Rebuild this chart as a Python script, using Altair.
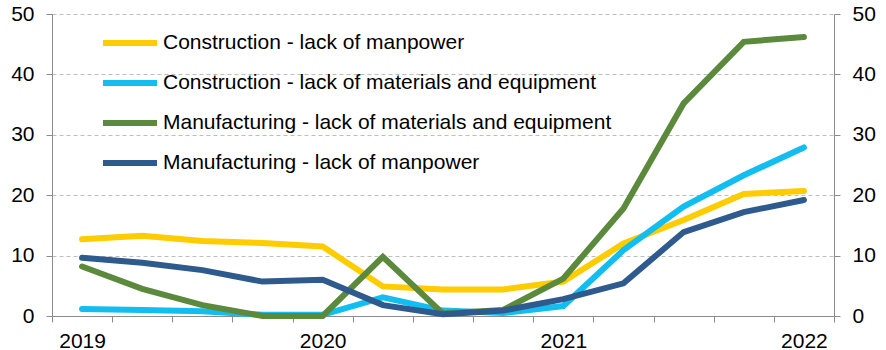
import altair as alt
import pandas as pd

quarters = ["2019Q1", "2019Q2", "2019Q3", "2019Q4",
            "2020Q1", "2020Q2", "2020Q3", "2020Q4",
            "2021Q1", "2021Q2", "2021Q3", "2021Q4",
            "2022Q1"]

series_names = [
    "Construction - lack of manpower",
    "Construction - lack of materials and equipment",
    "Manufacturing - lack of materials and equipment",
    "Manufacturing - lack of manpower",
]
series_colors = ["#FFCC00", "#12BDEF", "#5B8A3D", "#2E5A8D"]

constr_manpower = [12.7, 13.3, 12.4, 12.1, 11.5, 4.9, 4.4, 4.4, 5.7, 12.0, 15.9, 20.2, 20.7]
constr_materials = [1.15, 1.0, 0.8, 0.2, 0.2, 3.1, 0.9, 0.5, 1.65, 10.9, 18.1, 23.3, 27.9]
manuf_materials = [8.2, 4.5, 1.8, 0.0, 0.0, 9.8, 0.4, 1.0, 6.2, 17.8, 35.2, 45.4, 46.2]
manuf_manpower = [9.65, 8.8, 7.6, 5.7, 6.0, 1.8, 0.3, 0.9, 2.8, 5.4, 13.9, 17.2, 19.2]

y_ticks = [0, 10, 20, 30, 40, 50]

rows = []
for name, vals in zip(series_names,
                      [constr_manpower, constr_materials, manuf_materials, manuf_manpower]):
    for q, v in zip(quarters, vals):
        rows.append({"quarter": q, "series": name, "value": v})
df = pd.DataFrame(rows)

FONT = "Liberation Sans"

x_enc = alt.X(
    "quarter:O",
    sort=quarters,
    bandPosition=0.5,
    scale=alt.Scale(type="band", paddingInner=0, paddingOuter=0),
    axis=alt.Axis(
        title=None,
        labelExpr="slice(datum.label, 4) == 'Q1' ? slice(datum.label, 0, 4) : ''",
        labelAngle=0,
        labelOverlap=False,
        tickBand="extent",
        tickSize=6,
        tickColor="#8C8C8C",
        domainColor="#8C8C8C",
        labelFont=FONT,
        labelFontSize=21,
        labelColor="#000000",
        labelPadding=8,
        grid=False,
    ),
)

lines = alt.Chart(df).mark_line(strokeWidth=6, strokeCap="round").encode(
    x=x_enc,
    y=alt.Y(
        "value:Q",
        scale=alt.Scale(domain=[0, 50], nice=False),
        axis=alt.Axis(
            title=None, values=y_ticks, orient="left",
            grid=True, gridColor="#BDBDBD", gridDash=[4, 3], gridWidth=1,
            tickSize=6, tickColor="#8C8C8C", domainColor="#8C8C8C",
            labelFont=FONT, labelFontSize=21, labelColor="#000000", labelPadding=12,
        ),
    ),
    color=alt.Color(
        "series:N",
        sort=series_names,
        scale=alt.Scale(domain=series_names, range=series_colors),
        legend=alt.Legend(
            title=None,
            orient="none",
            legendX=65,
            legendY=16,
            symbolType="M-2.7,0H2.7",
            symbolSize=400,
            symbolStrokeWidth=6,
            labelFont=FONT,
            labelFontSize=21,
            labelColor="#000000",
            labelOffset=20,
            rowPadding=15,
            padding=0,
            labelLimit=600,
        ),
    ),
)

right_axis = alt.Chart(df).mark_line(opacity=0).encode(
    x=x_enc,
    y=alt.Y(
        "value:Q",
        scale=alt.Scale(domain=[0, 50], nice=False),
        axis=alt.Axis(
            title=None, values=y_ticks, orient="right", grid=False,
            tickSize=6, tickColor="#8C8C8C", domainColor="#8C8C8C",
            labelFont=FONT, labelFontSize=21, labelColor="#000000", labelPadding=12,
        ),
    ),
    detail="series:N",
)

chart = alt.layer(lines, right_axis).resolve_scale(y="independent").properties(
    width=782,
    height=302,
    autosize=alt.AutoSizeParams(type="none"),
    padding={"left": 52, "top": 14, "right": 52, "bottom": 34},
    background="white",
).configure_view(stroke=None)

chart.save("out.html", embed_options={"renderer": "svg", "actions": False})
